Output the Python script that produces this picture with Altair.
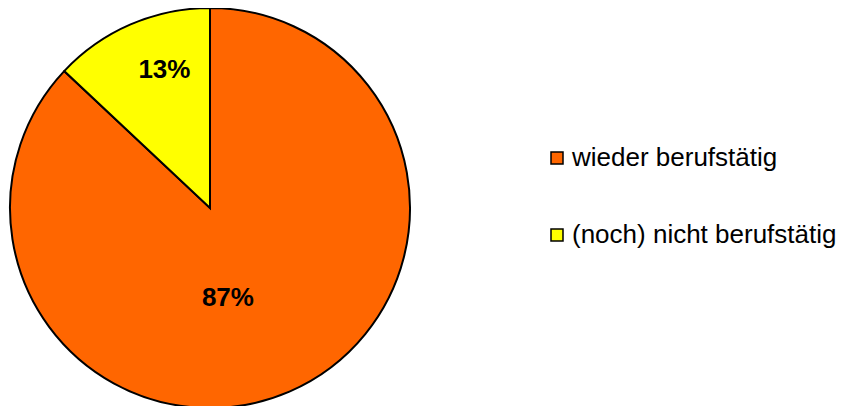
import altair as alt
import pandas as pd

categories = ["wieder berufstätig", "(noch) nicht berufstätig"]
values = [87, 13]
labels = ["87%", "13%"]
colors = ["#FF6600", "#FFFF00"]
order = [1, 2]

df = pd.DataFrame({"cat": categories, "value": values, "label": labels, "idx": order})

FONT = "Liberation Sans"

base = alt.Chart(df).encode(
    theta=alt.Theta("value:Q", stack=True),
    order=alt.Order("idx:Q"),
)

pie = base.mark_arc(stroke="black", strokeWidth=2, outerRadius=200).encode(
    color=alt.Color(
        "cat:N",
        scale=alt.Scale(domain=categories, range=colors),
        legend=alt.Legend(
            title=None,
            orient="none",
            legendX=536,
            legendY=127,
            symbolType="square",
            symbolSize=144,
            symbolStrokeColor="black",
            symbolStrokeWidth=1.5,
            symbolOpacity=1,
            labelFontSize=26,
            labelFont=FONT,
            labelColor="black",
            labelLimit=400,
            rowPadding=51,
            labelOffset=2,
            padding=0,
        ),
    )
)

t_small = base.transform_calculate(
    lab="datum.idx == 2 ? datum.label : ''"
).mark_text(
    radius=150, dx=14, fontSize=26, fontWeight="bold", font=FONT, color="black",
    align="center", baseline="middle",
).encode(text="lab:N")

t_big = base.transform_calculate(
    lab="datum.idx == 1 ? datum.label : ''"
).mark_text(
    radius=98, dx=-21, fontSize=26, fontWeight="bold", font=FONT, color="black",
    align="center", baseline="middle",
).encode(text="lab:N")

chart = alt.layer(pie, t_small, t_big).properties(
    width=404,
    height=380,
    autosize=alt.AutoSizeParams(type="none"),
    padding={"left": 0, "top": 10, "right": 426, "bottom": 8},
).configure_view(stroke=None)

chart.save("out.html", embed_options={"renderer": "svg", "actions": False})
